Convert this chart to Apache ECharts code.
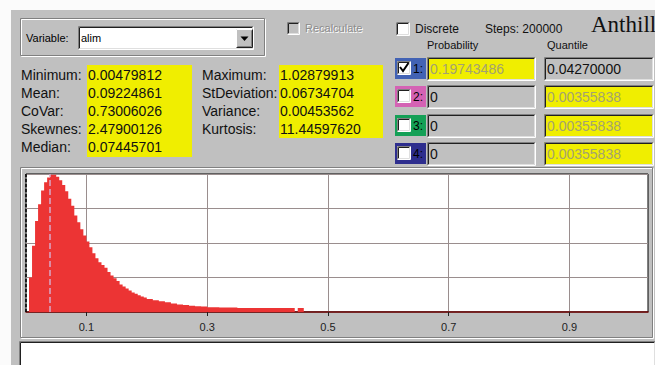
<!DOCTYPE html>
<html><head><meta charset="utf-8">
<script src="https://cdn.jsdelivr.net/npm/echarts@6/dist/echarts.min.js"></script>
<style>html,body{margin:0;padding:0;background:#fbfbfb;}#c{width:655px;height:365px;}</style>
</head><body><div id="c"></div>
<script>
// ---- data ----
const binStart = [0, 0.005, 0.010, 0.015, 0.020, 0.025, 0.030, 0.035, 0.040, 0.045,
  0.050, 0.055, 0.060, 0.065, 0.070, 0.075, 0.080, 0.085, 0.090, 0.095,
  0.100, 0.105, 0.110, 0.115, 0.120, 0.125, 0.130, 0.135, 0.140, 0.145,
  0.150, 0.155, 0.160, 0.165, 0.170, 0.175, 0.180, 0.185, 0.190, 0.195,
  0.20, 0.21, 0.22, 0.23, 0.24, 0.25, 0.26, 0.27, 0.28, 0.29,
  0.30, 0.32, 0.35, 0.445, 0.45, 0.46];
const binHeight = [0, 0.25, 0.48, 0.66, 0.78, 0.88, 0.94, 0.975, 0.995, 0.995,
  0.98, 0.955, 0.92, 0.875, 0.82, 0.77, 0.70, 0.65, 0.60, 0.555,
  0.51, 0.47, 0.425, 0.39, 0.36, 0.34, 0.32, 0.29, 0.265, 0.245,
  0.225, 0.20, 0.185, 0.17, 0.155, 0.142, 0.132, 0.122, 0.113, 0.105,
  0.095, 0.085, 0.078, 0.070, 0.062, 0.055, 0.050, 0.045, 0.042, 0.039,
  0.035, 0.033, 0.029, 0, 0.029, 0];
const xTickValues = [0.1, 0.3, 0.5, 0.7, 0.9];
const quantileMarks = [0.0427, 0.00355838];
const statNamesLeft = ['Minimum:', 'Mean:', 'CoVar:', 'Skewnes:', 'Median:'];
const statValuesLeft = ['0.00479812', '0.09224861', '0.73006026', '2.47900126', '0.07445701'];
const statNamesRight = ['Maximum:', 'StDeviation:', 'Variance:', 'Kurtosis:'];
const statValuesRight = ['1.02879913', '0.06734704', '0.00453562', '11.44597620'];
const rowLabels = ['1:', '2:', '3:', '4:'];
const probValues = ['0.19743486', '0', '0', '0'];
const quantValues = ['0.04270000', '0.00355838', '0.00355838', '0.00355838'];

// ---- helpers for the window widgets ----
const SANS = '"Liberation Sans", Arial, sans-serif';
const GRAY = '#c0c0c0', YEL = '#f0ee00';
function ln(x1, y1, x2, y2, c, w) {
  return {type: 'line', silent: true, shape: {x1, y1, x2, y2}, style: {stroke: c, lineWidth: w || 1}};
}
function rc(x, y, w, h, fill, z) {
  return {type: 'rect', silent: true, z: z || 0, shape: {x, y, width: w, height: h}, style: {fill}};
}
function tx(x, y, s, size, color, font, align) {
  return {type: 'text', silent: true, style: {text: s, x, y, font: size + 'px ' + (font || SANS), fill: color,
    textAlign: align || 'left', textVerticalAlign: 'middle', align: align || 'left', verticalAlign: 'middle'}};
}
function sunken(x, y, w, h) {
  x += 0.5; y += 0.5;
  return [ln(x, y, x + w, y, '#808080'), ln(x, y, x, y + h, '#808080'),
    ln(x + 1, y + 1, x + w - 1, y + 1, '#202020'), ln(x + 1, y + 1, x + 1, y + h - 1, '#202020'),
    ln(x, y + h, x + w, y + h, '#ffffff'), ln(x + w, y, x + w, y + h, '#ffffff'),
    ln(x + 1, y + h - 1, x + w - 1, y + h - 1, '#dfdfdf'), ln(x + w - 1, y + 1, x + w - 1, y + h - 1, '#dfdfdf')];
}
function raised(x, y, w, h) {
  x += 0.5; y += 0.5;
  return [ln(x, y, x + w, y, '#ffffff'), ln(x, y, x, y + h, '#ffffff'),
    ln(x, y + h, x + w, y + h, '#202020'), ln(x + w, y, x + w, y + h, '#202020'),
    ln(x + 1, y + h - 1, x + w - 1, y + h - 1, '#808080'), ln(x + w - 1, y + 1, x + w - 1, y + h - 1, '#808080')];
}
function etched(x, y, w, h) {
  x += 0.5; y += 0.5;
  return [{type: 'rect', silent: true, shape: {x: x + 1, y: y + 1, width: w, height: h}, style: {fill: 'none', stroke: '#ffffff'}},
    {type: 'rect', silent: true, shape: {x, y, width: w, height: h}, style: {fill: 'none', stroke: '#808080'}}];
}

const els = [];
els.push(rc(11, 10, 644, 355, GRAY, -10));
els.push(...etched(20, 18, 244, 37));
els.push(tx(26, 38, 'Variable:', 11, '#000'));
els.push(rc(79, 27, 174, 22, '#ffffff'));
els.push(...sunken(78, 26, 175, 23));
els.push(tx(81, 38, 'alim', 11, '#000'));
els.push(rc(236, 29, 16, 18, GRAY));
els.push(...raised(236, 29, 16, 18));
els.push({type: 'polygon', silent: true, shape: {points: [[240.5, 36.5], [248.5, 36.5], [244.5, 41]]}, style: {fill: '#000'}});
els.push(rc(87, 65, 105, 92, YEL));
els.push(rc(279, 65, 104, 73, YEL));
statNamesLeft.forEach((s, i) => {
  els.push(tx(21, 75 + i * 18, s, 14, '#111'));
  els.push(tx(88, 75 + i * 18, statValuesLeft[i], 14, '#111'));
});
statNamesRight.forEach((s, i) => {
  els.push(tx(202, 75 + i * 18, s, 14, '#111'));
  els.push(tx(280, 75 + i * 18, statValuesRight[i], 14, '#111'));
});
els.push(...sunken(287, 22, 12, 12));
els.push(tx(306, 29, 'Recalculate', 11, '#ffffff'));
els.push(tx(305, 28, 'Recalculate', 11, '#8c8c8c'));
els.push(rc(396, 22, 13, 13, '#ffffff'));
els.push(...sunken(396, 22, 13, 13));
els.push(tx(415, 29, 'Discrete', 12, '#111'));
els.push(tx(485, 29, 'Steps: 200000', 12, '#111'));
els.push(tx(591, 24, 'Anthill', 23, '#111', '"Liberation Serif", "Times New Roman", serif'));
els.push(tx(427, 45, 'Probability', 11, '#111'));
els.push(tx(547, 45, 'Quantile', 11, '#111'));
const rowColors = ['#4262b4', '#d462b4', '#14a056', '#2e2e8e'];
rowLabels.forEach((lab, r) => {
  const top = Math.round(57 + r * 28.3);
  els.push(rc(395, top + 1, 31, 21, rowColors[r]));
  els.push(rc(397, top + 4, 13, 13, '#ffffff'));
  els.push(...sunken(397, top + 4, 13, 13));
  if (r === 0) els.push({type: 'polyline', silent: true, shape: {points: [[400, top + 10], [403, top + 14], [408.5, top + 6]]}, style: {stroke: '#000', lineWidth: 2, fill: 'none'}});
  els.push(tx(413, top + 12, lab, 12, '#000'));
  const pY = r === 0;
  els.push(rc(427, top, 108, 23, pY ? YEL : GRAY));
  els.push(...sunken(427, top, 108, 23));
  els.push(tx(430, top + 12, probValues[r], 14, pY ? '#a4a270' : '#111'));
  const qY = r !== 0;
  els.push(rc(544, top, 109, 23, qY ? YEL : GRAY));
  els.push(...sunken(544, top, 109, 23));
  els.push(tx(547, top + 12, quantValues[r], 14, qY ? '#a4a270' : '#111'));
});
els.push(rc(20, 168, 632, 169, GRAY, -9));
els.push(...etched(20, 167, 632, 170).map(e => Object.assign(e, {z: -9})));
els.push(rc(20, 342, 634, 30, '#ffffff', -9));
els.push(...sunken(19, 341, 636, 30).map(e => Object.assign(e, {z: -8})));

// histogram bins: [start, end, height]
const bins = binStart.slice(0, -1).map((x, i) => [x, binStart[i + 1], binHeight[i]]);

const chart = echarts.init(document.getElementById('c'), null, {renderer: 'svg'});
chart.setOption({
  backgroundColor: '#fbfbfb',
  animation: false,
  graphic: {elements: els},
  grid: {left: 26, right: 7, top: 174, bottom: 53, show: true, backgroundColor: '#ffffff', borderColor: '#000', borderWidth: 1},
  xAxis: {
    type: 'value', min: 0, max: 1.03,
    axisLine: {show: true, onZero: false, lineStyle: {color: '#6b0000', width: 1.5}},
    axisTick: {show: true, customValues: xTickValues, length: 4, lineStyle: {color: '#222'}},
    axisLabel: {customValues: xTickValues, color: '#222', fontSize: 11, fontFamily: SANS, margin: 9},
    splitLine: {show: true, lineStyle: {color: '#9a8e8e', width: 1}}
  },
  yAxis: {
    type: 'value', min: 0, max: 1, interval: 0.25,
    axisLine: {show: false}, axisTick: {show: false}, axisLabel: {show: false},
    splitLine: {show: true, lineStyle: {color: '#9a8e8e', width: 1}}
  },
  series: [{
    type: 'custom',
    data: bins,
    encode: {x: [0, 1], y: 2},
    renderItem: function (params, api) {
      if (params.dataIndex !== 0) return null;
      const pts = [api.coord([bins[0][0], 0])];
      bins.forEach(b => {
        pts.push(api.coord([b[0], b[2]]));
        pts.push(api.coord([b[1], b[2]]));
      });
      pts.push(api.coord([bins[bins.length - 1][1], 0]));
      return {type: 'polygon', shape: {points: pts}, style: {fill: '#ec3434', stroke: null}};
    },
    markLine: {
      silent: true, symbol: 'none', label: {show: false},
      data: [
        {xAxis: quantileMarks[0], lineStyle: {type: 'dashed', color: '#d8a8c8', width: 1.5}},
        {xAxis: quantileMarks[1], lineStyle: {type: [3, 2], color: '#000', width: 1.5}}
      ]
    }
  }]
});
</script></body></html>
